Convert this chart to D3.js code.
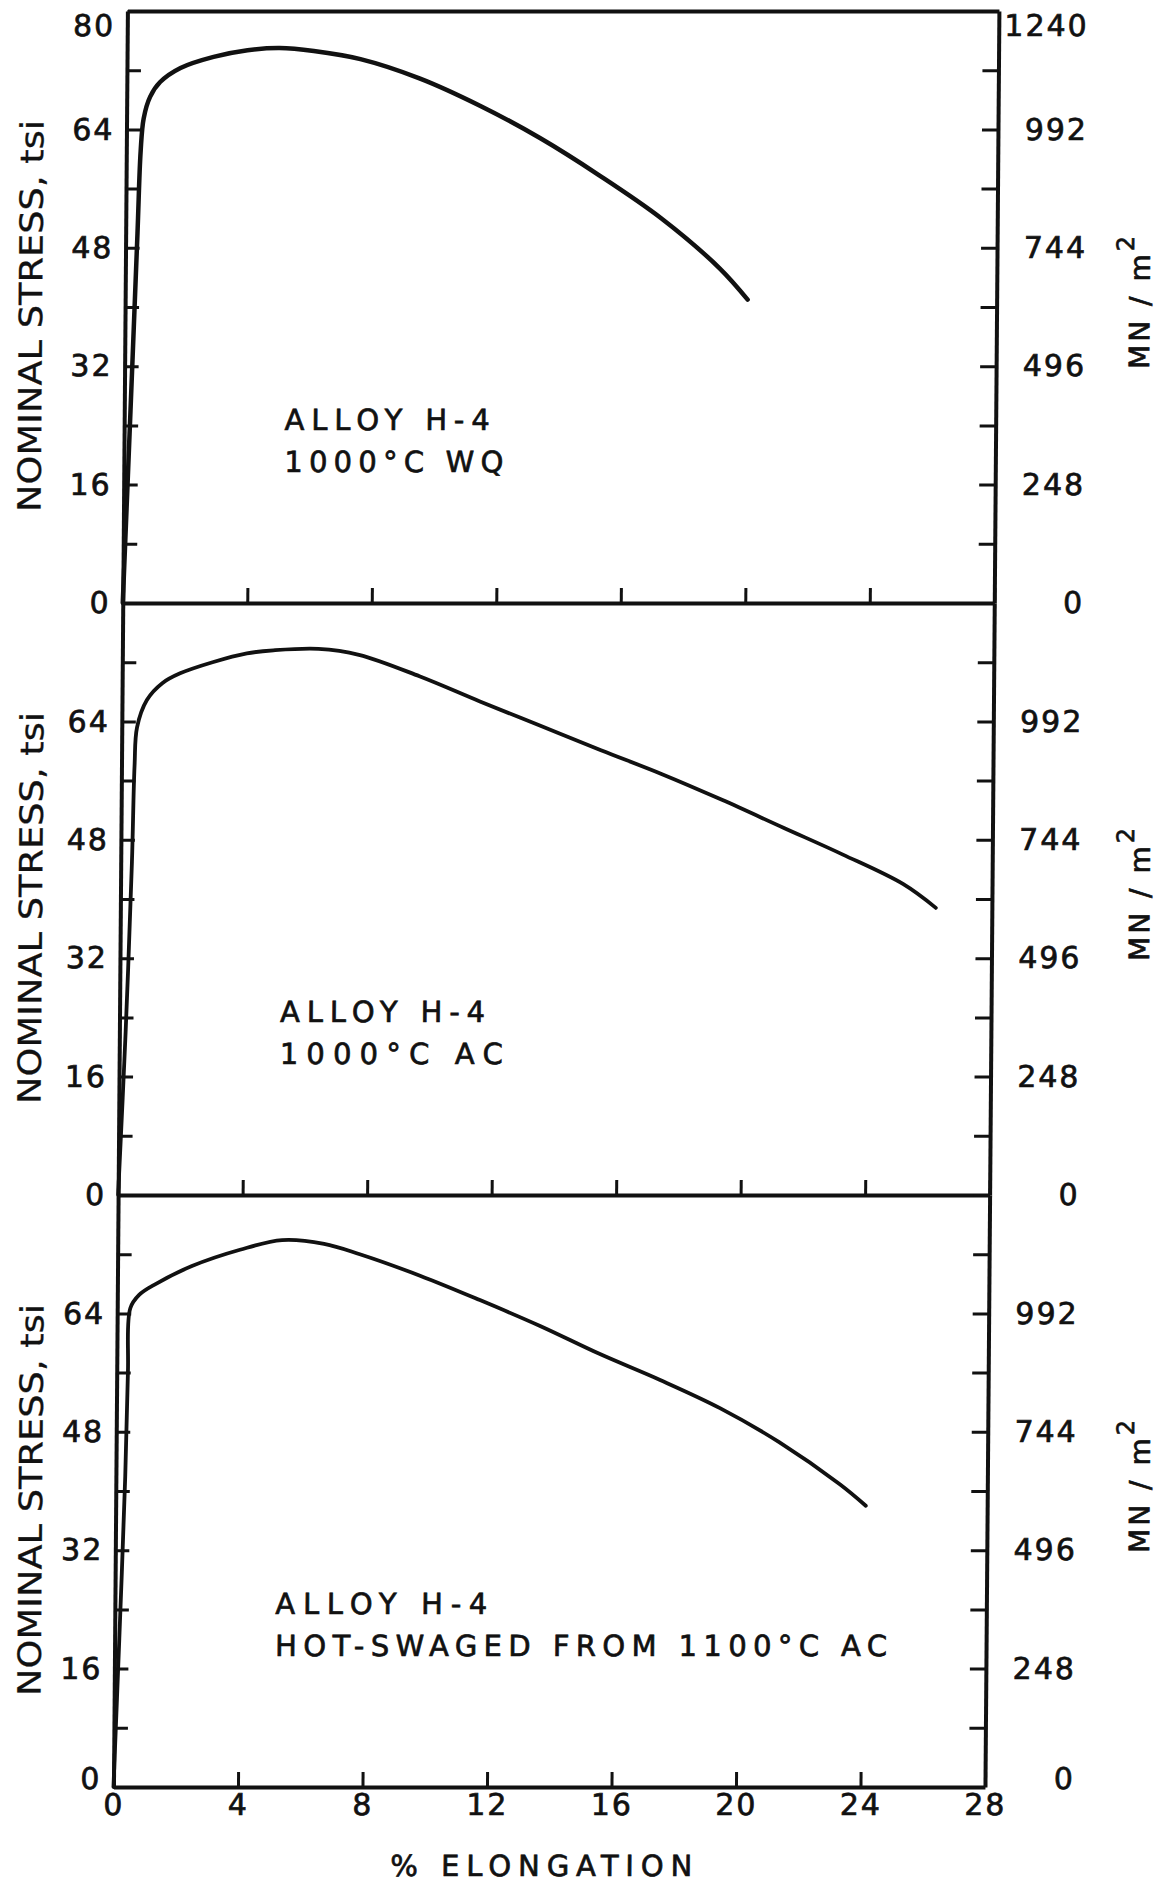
<!DOCTYPE html>
<html>
<head>
<meta charset="utf-8">
<script src="https://cdn.jsdelivr.net/npm/d3@7"></script>
<style>
  body { margin: 0; background: #fff; }
  svg text { font-family: "DejaVu Sans", Roboto, sans-serif; fill: #111; stroke: #111; stroke-width: 0.7px; }
  .tick text { font-size: 30px; letter-spacing: 2px; }
</style>
</head>
<body>
<div id="graph"></div>
<script>
// curves: % elongation vs nominal stress (tsi)
var wqElong  = [0, 0.2, 0.38, 0.46, 0.55, 0.75, 1.07, 1.72, 2.78, 3.87, 4.9, 6.0, 7.5, 9.4, 11.35, 13.3, 15.2, 17.2, 19.1, 20.0];
var wqStress = [0, 26, 50, 61, 65.5, 68.4, 70.4, 72.3, 73.8, 74.7, 75.0, 74.6, 73.5, 70.9, 67.2, 62.8, 57.8, 52.0, 45.2, 41.0];

var acElong  = [0, 0.2, 0.36, 0.42, 0.49, 0.8, 1.3, 1.86, 2.9, 4.0, 4.85, 6.3, 7.6, 9.55, 11.5, 13.45, 15.4, 17.35, 19.3, 21.3, 23.2, 25.15, 26.2];
var acStress = [0, 22, 45, 58, 63.2, 66.9, 69.2, 70.5, 72.0, 73.2, 73.6, 73.8, 73.0, 70.1, 66.7, 63.4, 60.1, 56.9, 53.4, 49.6, 46.0, 42.0, 38.8];

var hsElong  = [0, 0.15, 0.3, 0.36, 0.42, 0.7, 1.24, 2.39, 3.93, 5.28, 6.63, 7.78, 9.72, 11.65, 13.59, 15.52, 17.46, 19.39, 21.3, 23.26, 24.1];
var hsStress = [0, 20, 42, 56, 64.7, 66.5, 68.0, 70.4, 72.6, 73.9, 73.4, 72.0, 69.1, 65.8, 62.3, 58.5, 55.0, 51.2, 46.6, 40.9, 38.0];

// axes
var tsiTicks = [0, 8, 16, 24, 32, 40, 48, 56, 64, 72, 80];
var tsiLabels = [0, 16, 32, 48, 64, 80];
var mnLabels = ["0", "248", "496", "744", "992", "1240"];
var elongTicks = [0, 4, 8, 12, 16, 20, 24, 28];

var notes = [
  ["ALLOY H-4", "1000°C  WQ"],
  ["ALLOY H-4", "1000°C  AC"],
  ["ALLOY H-4", "HOT-SWAGED FROM 1100°C  AC"]
];

var width = 1170, height = 1882;
var left = 127.5, right = 999, top0 = 11, panelH = 592;
var lean = Math.tan(0.45 * Math.PI / 180);
var noteW = [[205, 219], [205, 223], [212, 612]];   // measured text widths

var svg = d3.select("#graph").append("svg")
  .attr("width", width)
  .attr("height", height);

// the scan leans a little, so lean the whole drawing with it
var chart = svg.append("g").attr("transform", "skewX(-0.45)");

var x = d3.scaleLinear().domain([0, 28]).range([left, right]);

var curves = [[wqElong, wqStress], [acElong, acStress], [hsElong, hsStress]];

function styleAxis(g) {
  g.attr("font-size", null).attr("font-family", null);
  g.select(".domain").attr("stroke", "#111").attr("stroke-width", 4);
  g.selectAll(".tick line").attr("stroke", "#111").attr("stroke-width", 3);
}

// top frame line
chart.append("g")
  .attr("transform", "translate(0," + top0 + ")")
  .call(d3.axisTop(x).tickValues([]).tickSizeOuter(0))
  .call(styleAxis);

curves.forEach(function(c, i) {
  var top = top0 + i * panelH;
  var y = d3.scaleLinear().domain([0, 80]).range([top + panelH, top]);
  var last = (i == curves.length - 1);

  function showLabel(d) {
    return tsiLabels.indexOf(d) >= 0 && (i == 0 || d < 80);
  }

  var yl = chart.append("g")
    .attr("transform", "translate(" + left + ",0)")
    .call(d3.axisLeft(y).tickValues(tsiTicks).tickSizeInner(-14).tickSizeOuter(0).tickPadding(12)
      .tickFormat(function(d) { return showLabel(d) ? d : ""; }))
    .call(styleAxis);

  var yr = chart.append("g")
    .attr("transform", "translate(" + right + ",0)")
    .call(d3.axisRight(y).tickValues(tsiTicks).tickSizeInner(-16).tickSizeOuter(0)
      .tickFormat(function(d) { return showLabel(d) ? mnLabels[tsiLabels.indexOf(d)] : ""; }))
    .call(styleAxis);
  yr.selectAll(".tick text").attr("x", 90).attr("text-anchor", "end");

  // corner labels sit inside the frame
  [yl, yr].forEach(function(ax) {
    ax.selectAll(".tick text")
      .filter(function(d) { return d == 80; })
      .attr("dy", "0.82em");
    if (last) {
      ax.selectAll(".tick text")
        .filter(function(d) { return d == 0; })
        .attr("dy", "0.05em");
    }
  });

  chart.append("g")
    .attr("transform", "translate(0," + (top + panelH) + ")")
    .call(d3.axisBottom(x).tickValues(elongTicks).tickSizeInner(-15).tickSizeOuter(0).tickPadding(7)
      .tickFormat(function(d) { return last ? d : ""; }))
    .call(styleAxis);

  var line = d3.line()
    .x(function(d) { return x(d[0]); })
    .y(function(d) { return y(d[1]); })
    .curve(d3.curveCatmullRom.alpha(0.5));

  chart.append("path")
    .datum(d3.zip(c[0], c[1]))
    .attr("fill", "none")
    .attr("stroke", "#111")
    .attr("stroke-width", i == 0 ? 4.5 : 3.8)
    .attr("stroke-linejoin", "round")
    .attr("stroke-linecap", "round")
    .attr("d", line);

  notes[i].forEach(function(t, k) {
    chart.append("text")
      .attr("x", 288)
      .attr("y", top + 419 + k * 42)
      .attr("font-size", 29)
      .attr("textLength", noteW[i][k])
      .attr("lengthAdjust", "spacing")
      .text(t);
  });

  // title baseline sits ~40px from the page edge on screen
  var ty = top + 305;
  chart.append("text")
    .attr("transform", "translate(" + (42 + lean * ty) + "," + ty + ") rotate(-90)")
    .attr("text-anchor", "middle")
    .attr("font-size", 32)
    .style("stroke-width", "0.3px")
    .attr("textLength", 392)
    .attr("lengthAdjust", "spacingAndGlyphs")
    .text("NOMINAL STRESS, tsi");

  var my = top + 290;
  var mn = chart.append("text")
    .attr("transform", "translate(" + (1152 + lean * (my - 300)) + "," + my + ") rotate(-90)")
    .attr("text-anchor", "middle")
    .attr("font-size", 28)
    .attr("letter-spacing", 3);
  mn.append("tspan").text("MN / m");
  mn.append("tspan").attr("dy", -16).attr("font-size", 24).text("2");
});

chart.append("text")
  .attr("x", 556)
  .attr("y", 1876)
  .attr("text-anchor", "middle")
  .attr("font-size", 29)
  .attr("textLength", 302)
  .attr("lengthAdjust", "spacing")
  .text("% ELONGATION");
</script>
</body>
</html>
